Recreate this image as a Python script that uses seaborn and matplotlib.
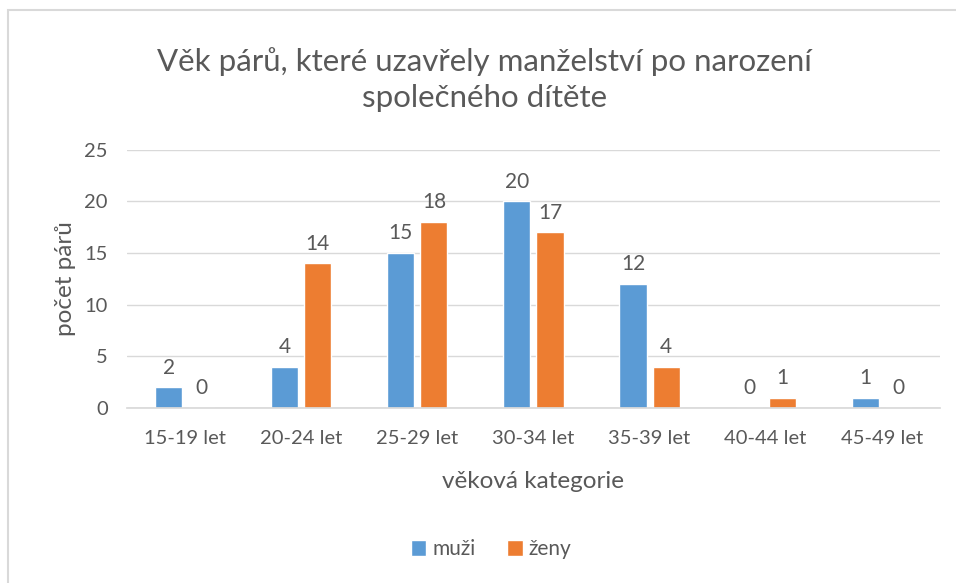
import pandas as pd
import matplotlib.pyplot as plt
import matplotlib.patches as mpatches
import seaborn as sns

# Data
kategorie = ["15-19 let", "20-24 let", "25-29 let", "30-34 let",
             "35-39 let", "40-44 let", "45-49 let"]
muzi = [2, 4, 15, 20, 12, 0, 1]
zeny = [0, 14, 18, 17, 4, 1, 0]

df = pd.DataFrame({
    "kategorie": kategorie * 2,
    "pocet": muzi + zeny,
    "pohlavi": ["muži"] * len(muzi) + ["ženy"] * len(zeny),
})

sns.set_theme(style="white")
plt.rcParams["font.family"] = ["Lato", "DejaVu Sans"]
text_col = "#595959"

fig = plt.figure(figsize=(9.56, 5.83), dpi=100)
ax = fig.add_axes([0.133, 0.300, 0.850, 0.443])

sns.barplot(data=df, x="kategorie", y="pocet", hue="pohlavi",
            palette=["#5B9BD5", "#ED7D31"], saturation=1, width=0.57, gap=0.18,
            ax=ax, legend=True)

for cont in ax.containers:
    ax.bar_label(cont, padding=7, fontsize=15, color=text_col)

ax.set_ylim(0, 25)
ax.set_yticks(range(0, 26, 5))
ax.yaxis.grid(True, color="#d9d9d9", linewidth=1)
ax.set_axisbelow(True)
for s in ["top", "right", "left"]:
    ax.spines[s].set_visible(False)
ax.spines["bottom"].set_color("#d9d9d9")
ax.tick_params(axis="both", length=0, labelsize=14.5, labelcolor=text_col)
ax.tick_params(axis="x", pad=16)
ax.tick_params(axis="y", pad=14)
ax.set_xlabel("věková kategorie", fontsize=17.5, color=text_col, labelpad=17)
ax.set_ylabel("počet párů", fontsize=17.5, color=text_col, labelpad=6)

ax.legend(loc="center", bbox_to_anchor=(0.448, -0.547), ncol=2, frameon=False,
          fontsize=15, labelcolor=text_col, handlelength=0.75, handleheight=0.75,
          handletextpad=0.3, columnspacing=1.5)

fig.text(0.507, 0.863, "Věk párů, které uzavřely manželství po narození\nspolečného dítěte",
         ha="center", va="center", fontsize=22.5, color=text_col, linespacing=1.35)

# chart frame
fig.patches.append(mpatches.Rectangle((8 / 956, -0.1), 1.2, 1 - 10 / 583 + 0.1,
                                      transform=fig.transFigure, fill=False,
                                      edgecolor="#d9d9d9", linewidth=1.5))

fig.savefig("out.png", dpi=100)
